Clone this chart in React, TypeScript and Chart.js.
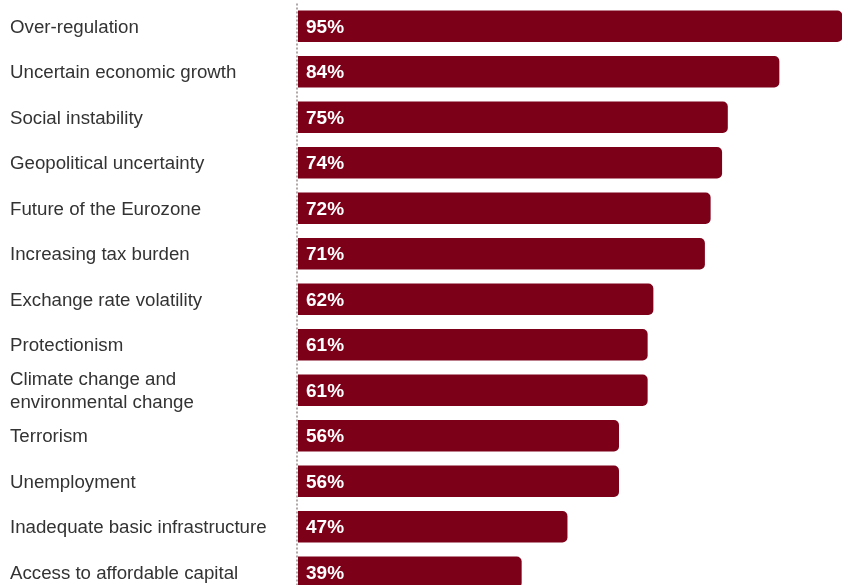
import React, { useEffect, useRef } from "react";
import { Chart, registerables } from "chart.js";

Chart.register(...registerables);

const categories: string[][] = [
  ["Over-regulation"],
  ["Uncertain economic growth"],
  ["Social instability"],
  ["Geopolitical uncertainty"],
  ["Future of the Eurozone"],
  ["Increasing tax burden"],
  ["Exchange rate volatility"],
  ["Protectionism"],
  ["Climate change and", "environmental change"],
  ["Terrorism"],
  ["Unemployment"],
  ["Inadequate basic infrastructure"],
  ["Access to affordable capital"],
];

const values: number[] = [95, 84, 75, 74, 72, 71, 62, 61, 61, 56, 56, 47, 39];

const valueLabels: string[] = values.map((v) => v + "%");

const FONT = "'Liberation Sans', Arial, Helvetica, sans-serif";

const dottedAxisPlugin = {
  id: "dottedAxis",
  beforeDatasetsDraw(chart: any) {
    const { ctx, chartArea } = chart;
    ctx.save();
    ctx.strokeStyle = "#b0a8a8";
    ctx.lineWidth = 2;
    ctx.setLineDash([2, 2]);
    ctx.beginPath();
    ctx.moveTo(chartArea.left - 1, chartArea.top);
    ctx.lineTo(chartArea.left - 1, chartArea.bottom);
    ctx.stroke();
    ctx.restore();
  },
};

const labelPlugin = {
  id: "labels",
  afterDatasetsDraw(chart: any) {
    const ctx = chart.ctx;
    const meta = chart.getDatasetMeta(0);
    ctx.save();
    ctx.textBaseline = "middle";
    ctx.textAlign = "left";
    meta.data.forEach((bar: any, i: number) => {
      // category label
      ctx.fillStyle = "#333333";
      ctx.font = `18.7px ${FONT}`;
      const lines = categories[i];
      const lh = 23;
      const start = bar.y + 1.5 - ((lines.length - 1) * lh) / 2;
      lines.forEach((ln, j) => ctx.fillText(ln, 10, start + j * lh));
      // value label
      ctx.fillStyle = "#ffffff";
      ctx.font = `bold 19px ${FONT}`;
      ctx.fillText(valueLabels[i], bar.base + 8, bar.y + 1.5);
    });
    ctx.restore();
  },
};

export default function App() {
  const ref = useRef<HTMLCanvasElement | null>(null);

  useEffect(() => {
    if (!ref.current) return;
    const chart = new Chart(ref.current, {
      type: "bar",
      data: {
        labels: categories.map((c) => c.join(" ")),
        datasets: [
          {
            data: values,
            backgroundColor: "#7d0019",
            borderRadius: 5,
            borderSkipped: "start",
            barThickness: 31,
          },
        ],
      },
      options: {
        indexAxis: "y",
        animation: false,
        responsive: false,
        maintainAspectRatio: false,
        layout: { padding: { left: 10, right: 7, top: 3.5, bottom: 0 } },
        plugins: { legend: { display: false }, tooltip: { enabled: false } },
        scales: {
          x: { display: false, min: 0, max: 95 },
          y: {
            grid: { display: false, drawTicks: false },
            border: { display: false },
            ticks: { display: false },
            afterFit(scale: any) {
              scale.width = 288;
            },
          },
        },
      },
      plugins: [dottedAxisPlugin, labelPlugin],
    });
    return () => chart.destroy();
  }, []);

  return (
    <div style={{ position: "absolute", left: 0, top: 0 }}>
      <canvas ref={ref} width={849} height={595} style={{ display: "block" }} />
    </div>
  );
}
